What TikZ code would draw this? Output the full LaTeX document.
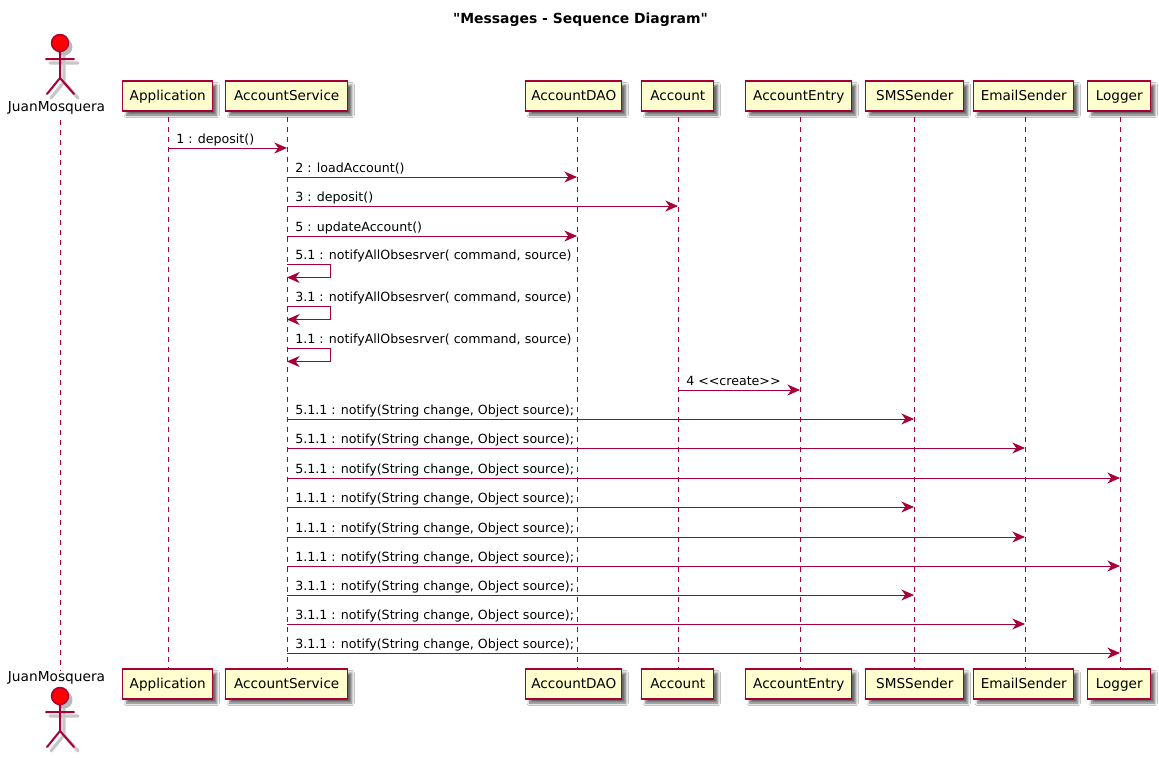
\documentclass[tikz,border=0pt]{standalone}
\usepackage{fontspec}
\newfontfamily\umlfont{DejaVu Sans}
\usetikzlibrary{arrows.meta,shadows.blur}
\definecolor{umlline}{HTML}{A80036}
\definecolor{umlfill}{HTML}{FEFECE}
\tikzset{
    partbox/.style={draw=umlline,fill=umlfill,line width=1.1pt,minimum height=22.5pt,inner sep=0pt,anchor=west,
        text height=8.5pt,text depth=1.7pt,font=\umlfont\fontsize{10.2pt}{12pt}\selectfont,
        blur shadow={shadow xshift=3pt,shadow yshift=-3pt,shadow blur radius=2pt,shadow blur steps=6,shadow opacity=60}},
    lifeline/.style={draw=umlline,line width=.75pt,dash pattern=on 3.75pt off 3.75pt,dash phase=3.75pt},
    msg/.style={draw=umlline,line width=.75pt,-{Stealth[length=9.5pt,width=8.25pt,inset=3pt]}},
    msglabel/.style={anchor=base west,inner sep=0pt,font=\umlfont\fontsize{9.46pt}{12pt}\selectfont},
    actorname/.style={inner sep=0pt,font=\umlfont\fontsize{10.3pt}{12pt}\selectfont},
    actorline/.style={line width=1.5pt,line cap=round}
}
\begin{document}
\begin{tikzpicture}[x=.75pt,y=-.75pt]
    \useasboundingbox[fill=white] (0,0) rectangle (1159,757);
    \node[font=\umlfont\bfseries\fontsize{10.45pt}{12pt}\selectfont] (title) at (580.5,19.5) {"Messages - Sequence Diagram"};
    % participants
    \foreach \name/\txt/\xx/\lft/\boxw in {application/Application/168/122/90,
        accountservice/AccountService/287/225/122,accountdao/AccountDAO/577/525/96,
        account/Account/678/641/72,accountentry/AccountEntry/800/745/106,
        smssender/SMSSender/914/865/98,emailsender/EmailSender/1025/973/100,logger/Logger/1120/1087/63} {
        \coordinate (\name) at (\xx,0);
        \node[partbox,minimum width=\boxw*.75pt] (\name-top) at (\lft,96) {\txt};
        \node[partbox,minimum width=\boxw*.75pt] (\name-bot) at (\lft,684) {\txt};
        \draw[lifeline] (\name |- \name-top.south) -- (\name |- \name-bot.north);
    }
    % actor
    \coordinate (juan) at (60,0);
    \node[actorname] (juan-top) at (56.5,108) {JuanMosquera};
    \node[actorname] (juan-bot) at (56.5,678) {JuanMosquera};
    \draw[lifeline] (juan |- juan-top.south) -- (juan |- juan-bot.north);
    \foreach \yy in {43,696} {
        \begin{scope}[shift={(60,\yy)}]
            \draw[actorline,black!22,line width=2.4pt] (-10,20) -- (18,20) (4,8) -- (4,39) (4,39) -- (-9,55) (4,39) -- (18,55);
            \fill[black!28] (4,4) circle (8.5);
            \draw[actorline,umlline] (-14,16) -- (14,16) (0,8) -- (0,35) (0,35) -- (-13,51) (0,35) -- (14,51);
            \draw[umlline,line width=1.1pt,fill=red] (0,0) circle (8.5);
        \end{scope}
    }
    % messages
    \foreach \src/\dst/\yy/\txt in {application/accountservice/148/{1 : deposit()},
        accountservice/accountdao/177/{2 : loadAccount()},
        accountservice/account/206/{3 : deposit()},
        accountservice/accountdao/236/{5 : updateAccount()},
        account/accountentry/390/{4 <<create>>},
        accountservice/smssender/419/{5.1.1 : notify(String change, Object source);},
        accountservice/emailsender/448/{5.1.1 : notify(String change, Object source);},
        accountservice/logger/478/{5.1.1 : notify(String change, Object source);},
        accountservice/smssender/507/{1.1.1 : notify(String change, Object source);},
        accountservice/emailsender/537/{1.1.1 : notify(String change, Object source);},
        accountservice/logger/566/{1.1.1 : notify(String change, Object source);},
        accountservice/smssender/595/{3.1.1 : notify(String change, Object source);},
        accountservice/emailsender/624/{3.1.1 : notify(String change, Object source);},
        accountservice/logger/653/{3.1.1 : notify(String change, Object source);}} {
        \draw[msg] (\src |- 0,\yy) -- (\dst |- 0,\yy);
        \node[msglabel] (lbl-\yy) at ([xshift=6pt,yshift=3.4pt]\src |- 0,\yy) {\txt};
    }
    % self messages
    \foreach \yy/\txt in {264/5.1,306/3.1,348/1.1} {
        \draw[msg] (accountservice |- 0,\yy+.5) -- ++(43,0) -- ++(0,13) -- (accountservice |- 0,\yy+13.5);
        \node[msglabel] (lbl-\yy) at ([xshift=6pt,yshift=3.4pt]accountservice |- 0,\yy+.5) {\txt{} : notifyAllObsesrver( command, source)};
    }
\end{tikzpicture}
\end{document}
